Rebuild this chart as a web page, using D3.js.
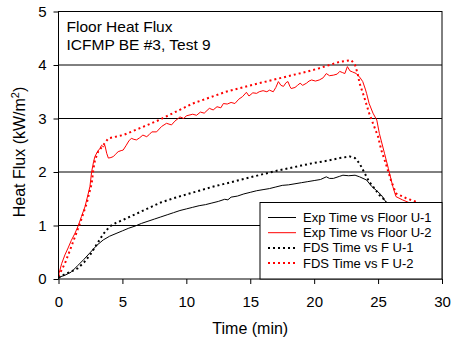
<!DOCTYPE html>
<html><head><meta charset="utf-8">
<script src="https://cdn.jsdelivr.net/npm/d3@7"></script>
<style>
html,body{margin:0;padding:0;background:#fff;}
svg{display:block;font-family:Arial,"Liberation Sans",sans-serif;}
</style></head>
<body>
<svg id="chart" width="453" height="341"></svg>
<script>
// ---- data ----
const xTicks = [0, 5, 10, 15, 20, 25, 30];
const yTicks = [0, 1, 2, 3, 4, 5];
const titleLines = ["Floor Heat Flux", "ICFMP BE #3, Test 9"];
const seriesNames = ["Exp Time vs Floor U-1", "Exp Time vs Floor U-2", "FDS Time vs F U-1", "FDS Time vs F U-2"];

const expU1Time = [0,0.5,1,1.5,2,2.5,3,3.5,4,4.5,5,5.5,6,6.5,7,7.5,8,8.5,9,9.5,10,10.5,11,11.5,12,12.5,13,13.25,13.5,14,14.5,15,15.5,16,16.5,17,17.5,18,18.5,19,19.5,20,20.5,20.95,21.2,21.5,22,22.25,22.7,23.2,23.55,24.1,24.5,24.85,25.25,25.5,26,27,28];
const expU1Val  = [0.03,0.07,0.13,0.25,0.37,0.5,0.63,0.73,0.8,0.85,0.9,0.95,0.99,1.04,1.08,1.12,1.16,1.2,1.24,1.28,1.31,1.34,1.37,1.39,1.42,1.45,1.49,1.48,1.53,1.55,1.59,1.62,1.65,1.67,1.69,1.72,1.75,1.76,1.78,1.8,1.82,1.84,1.86,1.91,1.88,1.88,1.92,1.94,1.93,1.94,1.91,1.85,1.73,1.66,1.57,1.48,1.3,1.1,0.95];

const expU2Time = [0,0.25,0.5,0.75,1.0,1.3,1.55,1.8,2.07,2.3,2.46,2.59,2.75,2.85,3.05,3.24,3.37,3.5,3.63,3.77,3.9,4.1,4.3,4.45,4.67,4.9,5.06,5.3,5.5,5.7,5.9,6.1,6.35,6.6,6.9,7.1,7.3,7.67,8.06,8.45,8.84,9.1,9.36,9.5,9.8,10.0,10.5,10.8,11.1,11.4,11.8,12.1,12.4,12.7,12.9,13.2,13.5,13.8,14.1,14.4,14.7,14.9,15.2,15.5,15.7,16.0,16.3,16.5,16.8,17.0,17.2,17.4,17.6,17.8,17.95,18.1,18.2,18.5,18.7,18.9,19.1,19.4,19.6,19.8,20.1,20.4,20.7,20.95,21.2,21.5,21.8,22.0,22.2,22.4,22.6,22.8,23.0,23.3,23.6,23.8,24.0,24.1,24.3,24.6,24.9,25.1,25.5,25.8,26.15,26.4,26.9,27.5,28.2,29];
const expU2Val  = [0.07,0.29,0.45,0.58,0.72,0.86,1.0,1.17,1.35,1.57,1.73,2.0,2.2,2.29,2.38,2.44,2.5,2.47,2.5,2.35,2.26,2.27,2.29,2.33,2.38,2.4,2.41,2.5,2.58,2.63,2.61,2.6,2.64,2.69,2.66,2.7,2.75,2.75,2.85,2.91,2.88,2.95,3.0,3.03,3.0,3.05,3.08,3.06,3.12,3.1,3.19,3.16,3.22,3.2,3.28,3.27,3.3,3.28,3.36,3.41,3.49,3.42,3.48,3.47,3.5,3.52,3.5,3.53,3.5,3.58,3.69,3.62,3.6,3.67,3.69,3.6,3.56,3.58,3.62,3.66,3.62,3.66,3.7,3.72,3.7,3.72,3.76,3.84,3.8,3.81,3.83,3.88,3.86,3.84,3.97,3.89,3.87,3.84,3.76,3.69,3.55,3.47,3.28,3.1,2.97,2.72,2.35,2.07,1.73,1.54,1.48,1.42,1.35,1.25];

const fdsU1Time = [0,0.5,1,1.5,2,2.5,3,3.5,4,4.5,5,6,7,8,9,10,11,12,13,14,15,16,17,18,19,20,21,22,22.8,23.2,23.55,23.9,24.3,24.7,25.1,25.5,26,27,28];
const fdsU1Val  = [0.02,0.09,0.14,0.2,0.31,0.46,0.65,0.84,0.98,1.05,1.1,1.21,1.32,1.43,1.51,1.58,1.65,1.72,1.78,1.84,1.9,1.96,2.02,2.07,2.12,2.17,2.21,2.26,2.29,2.26,2.16,2.0,1.82,1.7,1.57,1.48,1.3,1.1,0.95];

const fdsU2Time = [0,0.1,0.5,0.9,1.29,1.68,2.2,2.6,2.72,2.85,3.1,3.5,3.9,5.06,6.37,7.67,8.7,10.5,13.1,15.7,18.3,19.5,20.4,22.0,22.9,23.2,23.4,23.55,23.9,24.3,24.6,25.0,25.25,25.6,26.0,26.4,27.2,28.0,29];
const fdsU2Val  = [0.05,0.1,0.29,0.54,0.79,1.04,1.41,1.79,2.04,2.22,2.38,2.5,2.63,2.69,2.82,2.95,3.07,3.28,3.5,3.66,3.81,3.88,3.94,4.06,4.09,4.0,3.84,3.66,3.41,3.1,2.91,2.66,2.41,2.16,1.85,1.6,1.51,1.44,1.35];

const seriesColors = ["#000000", "#ff0000", "#000000", "#ff0000"];
const seriesDash = [null, null, "2,3", "2,3"];

// ---- chart ----
const svg = d3.select("#chart");
const x = d3.scaleLinear().domain([0, 30]).range([58.5, 442]);
const y = d3.scaleLinear().domain([0, 5]).range([279, 11.5]);

// gridlines
svg.append("g").selectAll("line").data(yTicks.filter(d => d > 0 && d < 5)).join("line")
  .attr("x1", x(0)).attr("x2", x(30))
  .attr("y1", d => y(d)).attr("y2", d => y(d))
  .attr("stroke", "#000").attr("stroke-width", 1);

// axes
const yAxis = svg.append("g").attr("transform", `translate(${x(0)},0)`)
  .call(d3.axisLeft(y).tickValues(yTicks).tickFormat(d3.format("d")).tickSize(5).tickPadding(7));
const xAxis = svg.append("g").attr("transform", `translate(0,${y(0)})`)
  .call(d3.axisBottom(x).tickValues(xTicks).tickFormat(d3.format("d")).tickSize(5).tickPadding(12));
[yAxis, xAxis].forEach(a => {
  a.select(".domain").remove();
  a.selectAll("text").attr("font-size", 15).attr("fill", "#000").attr("font-family", "Arial, 'Liberation Sans', sans-serif");
  a.selectAll("line").attr("stroke", "#000");
});

// clip
svg.append("clipPath").attr("id", "plotclip").append("rect")
  .attr("x", x(0)).attr("y", y(5)).attr("width", x(30) - x(0)).attr("height", y(0) - y(5));

const line = d3.line().x(d => x(d[0])).y(d => y(d[1]));
const seriesData = [
  d3.zip(expU1Time, expU1Val),
  d3.zip(expU2Time, expU2Val),
  d3.zip(fdsU1Time, fdsU1Val),
  d3.zip(fdsU2Time, fdsU2Val)
];
const gLines = svg.append("g").attr("clip-path", "url(#plotclip)");
[2, 3, 0, 1].forEach(i => {
  gLines.append("path").datum(seriesData[i])
    .attr("d", line).attr("fill", "none")
    .attr("stroke", seriesColors[i])
    .attr("stroke-width", seriesDash[i] ? 2 : 1)
    .attr("stroke-dasharray", seriesDash[i]);
});

// frame
svg.append("rect").attr("x", x(0)).attr("y", y(5))
  .attr("width", x(30) - x(0)).attr("height", y(0) - y(5))
  .attr("fill", "none").attr("stroke", "#000").attr("stroke-width", 1);

// title text
svg.append("g").selectAll("text").data(titleLines).join("text")
  .attr("x", 66.5).attr("y", (d, i) => 31.5 + i * 18.5)
  .attr("font-size", 15.5).attr("fill", "#000").text(d => d);

// axis titles
svg.append("text").attr("x", (x(0) + x(30)) / 2).attr("y", 334)
  .attr("text-anchor", "middle").attr("font-size", 16).text("Time (min)");
const yt = svg.append("text").attr("transform", `translate(25,${152}) rotate(-90)`)
  .attr("text-anchor", "middle").attr("font-size", 16);
yt.append("tspan").text("Heat Flux (kW/m");
yt.append("tspan").attr("font-size", 11).attr("dy", -6).text("2");
yt.append("tspan").attr("dy", 6).text(")");

// legend
const lg = svg.append("g");
lg.append("rect").attr("x", 260).attr("y", 202.5).attr("width", x(30) - 260).attr("height", y(0) - 202.5)
  .attr("fill", "#fff").attr("stroke", "#000").attr("stroke-width", 1);
seriesNames.forEach((name, i) => {
  const yy = 217.5 + i * 15.2;
  lg.append("line").attr("x1", 268).attr("x2", 296).attr("y1", yy).attr("y2", yy)
    .attr("stroke", seriesColors[i]).attr("stroke-width", seriesDash[i] ? 2 : 1)
    .attr("stroke-dasharray", seriesDash[i]);
  lg.append("text").attr("x", 303).attr("y", yy + 4.5).attr("font-size", 13).attr("fill", "#000").text(name);
});
</script>
</body></html>
